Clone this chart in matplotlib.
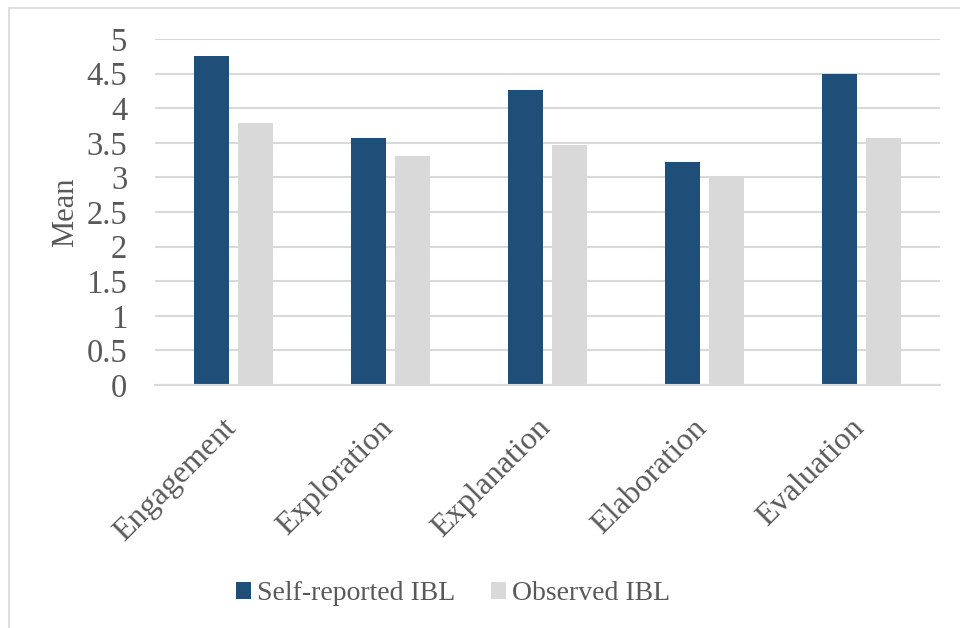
import matplotlib.pyplot as plt
import matplotlib.patches as mpatches
import matplotlib.transforms as mtransforms
import numpy as np

plt.rcParams['font.family'] = ['Liberation Serif', 'DejaVu Serif']

categories = ["Engagement", "Exploration", "Explanation", "Elaboration", "Evaluation"]
self_reported = [4.76, 3.57, 4.26, 3.22, 4.50]
observed = [3.78, 3.31, 3.47, 3.02, 3.57]
series_names = ["Self-reported IBL", "Observed IBL"]
y_ticks = [0, 0.5, 1, 1.5, 2, 2.5, 3, 3.5, 4, 4.5, 5]
y_tick_labels = ["0", "0.5", "1", "1.5", "2", "2.5", "3", "3.5", "4", "4.5", "5"]

blue = "#1F4E79"
gray = "#D9D9D9"
text_col = "#595959"

fig = plt.figure(figsize=(9.6, 6.28), dpi=100)
ax = fig.add_axes([155 / 960, 1 - 385 / 628, 785 / 960, 346 / 628])

x = np.arange(len(categories))
w = 0.223
off = 0.143
ax.bar(x - off, self_reported, width=w, color=blue, zorder=3, label=series_names[0])
ax.bar(x + off, observed, width=w, color=gray, zorder=3, label=series_names[1])

ax.set_xlim(-0.5, len(categories) - 0.5)
ax.set_ylim(0, 5)
ax.set_yticks(y_ticks)
ax.set_yticklabels(y_tick_labels, fontsize=23.5, color=text_col)
ax.yaxis.grid(True, color="#D9D9D9", linewidth=1.5, zorder=0)
ax.tick_params(axis='y', length=0, pad=20)
ax.tick_params(axis='x', length=0, pad=14)
ax.set_xticks(x)
ax.set_xticklabels(categories, rotation=45, ha='right', va='top',
                   rotation_mode='anchor', fontsize=23, color=text_col)
# nudge the slanted category labels down and to the left
shift = mtransforms.ScaledTranslation(-12 / 100, -9 / 100, fig.dpi_scale_trans)
for lab in ax.get_xticklabels():
    lab.set_transform(lab.get_transform() + shift)
for s in ['top', 'right', 'left']:
    ax.spines[s].set_visible(False)
ax.spines['bottom'].set_color("#D9D9D9")
ax.spines['bottom'].set_linewidth(1.5)
ax.spines['bottom'].set_zorder(4)

ax.set_ylabel("Mean", fontsize=22, color=text_col)
ax.yaxis.set_label_coords(-0.096, 0.5)

leg = fig.legend(loc='center', bbox_to_anchor=(453 / 960, 1 - 594 / 628),
                 ncol=2, frameon=False, fontsize=20, handlelength=0.55,
                 handleheight=0.55, handletextpad=0.2, columnspacing=1.3,
                 labelcolor=text_col)

# outer chart frame
fig.patches.append(mpatches.Rectangle((9 / 960, -0.1), 1.2, 1 - 8 / 628 + 0.1,
                                      transform=fig.transFigure, fill=False,
                                      edgecolor="#D9D9D9", linewidth=1.2))

fig.savefig("out.png", dpi=100, facecolor="white")
